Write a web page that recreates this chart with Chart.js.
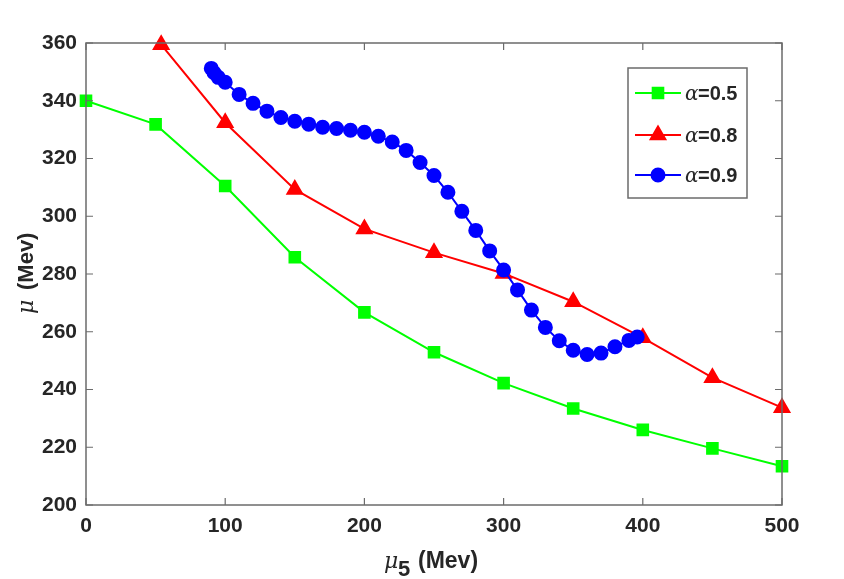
<!DOCTYPE html>
<html>
<head>
<meta charset="utf-8">
<script src="https://cdn.jsdelivr.net/npm/chart.js@4.4.0/dist/chart.umd.min.js"></script>
<style>
  html, body { margin: 0; padding: 0; background: #fff; }
  #wrap { width: 844px; height: 579px; }
</style>
</head>
<body>
<div id="wrap"><canvas id="myChart" width="844" height="579"></canvas></div>
<script>
/*** data */
const xTicks = [0, 100, 200, 300, 400, 500];
const yTicks = [200, 220, 240, 260, 280, 300, 320, 340, 360];

const mu5Green = [0, 50, 100, 150, 200, 250, 300, 350, 400, 450, 500];
const muGreen = [340, 331.8, 310.5, 285.8, 266.7, 252.9, 242.2, 233.4, 226, 219.6, 213.4];

const mu5Red = [54, 100, 150, 200, 250, 300, 350, 400, 450, 500];
const muRed = [359.4, 332.4, 309.3, 295.6, 287.4, 280.2, 270.4, 257.9, 244.1, 233.7];

const mu5Blue = [90, 92, 95, 100, 110, 120, 130, 140, 150, 160, 170, 180, 190, 200, 210, 220, 230,
  240, 250, 260, 270, 280, 290, 300, 310, 320, 330, 340, 350, 360, 370, 380, 390, 396];
const muBlue = [351.2, 349.7, 348.1, 346.4, 342.2, 339.1, 336.4, 334.2, 332.9, 331.9, 330.8, 330.4,
  329.8, 329.1, 327.7, 325.7, 322.8, 318.6, 314.1, 308.3, 301.7, 295.1, 288, 281.4, 274.5, 267.5,
  261.5, 256.9, 253.6, 252.1, 252.6, 254.8, 257, 258.2];

const legendNames = ['=0.5', '=0.8', '=0.9'];

function toPoints(xs, ys) {
  return xs.map((x, i) => ({ x: x, y: ys[i] }));
}

const axisColor = '#6b6b6b';
const textColor = '#262626';

/*** box, inward ticks, axis titles and legend like the matlab figure */
const matlabAxes = {
  id: 'matlabAxes',
  afterDraw(chart) {
    const c = chart.ctx;
    const a = chart.chartArea;
    const xs = chart.scales.x, ys = chart.scales.y;
    c.save();
    c.strokeStyle = axisColor;
    c.lineWidth = 1.5;
    c.strokeRect(a.left, a.top, a.right - a.left, a.bottom - a.top);
    c.lineWidth = 1.2;
    xTicks.forEach(v => {
      const px = xs.getPixelForValue(v);
      c.beginPath();
      c.moveTo(px, a.bottom); c.lineTo(px, a.bottom - 7);
      c.moveTo(px, a.top); c.lineTo(px, a.top + 7);
      c.stroke();
    });
    yTicks.forEach(v => {
      const py = ys.getPixelForValue(v);
      c.beginPath();
      c.moveTo(a.left, py); c.lineTo(a.left + 7, py);
      c.moveTo(a.right, py); c.lineTo(a.right - 7, py);
      c.stroke();
    });

    // x title: mu_5 (Mev)
    c.fillStyle = textColor;
    c.textBaseline = 'alphabetic';
    c.textAlign = 'left';
    c.font = 'italic 22px "DejaVu Serif"';
    c.fillText('\u03bc', 384, 568);
    c.font = 'bold 22px "Liberation Sans"';
    c.fillText('5', 398, 576);
    c.font = 'bold 23px "Liberation Sans"';
    c.fillText('(Mev)', 418, 568);

    // y title: mu (Mev)
    c.save();
    c.translate(33, 0);
    c.rotate(-Math.PI / 2);
    c.font = 'italic 22px "DejaVu Serif"';
    c.fillText('\u03bc', -314, 0);
    c.font = 'bold 22px "Liberation Sans"';
    c.fillText('(Mev)', -290, 0);
    c.restore();

    // legend
    const lx = 628, ly = 68, lw = 119, lh = 130;
    c.fillStyle = '#fff';
    c.fillRect(lx, ly, lw, lh);
    c.strokeStyle = axisColor;
    c.lineWidth = 1.5;
    c.strokeRect(lx, ly, lw, lh);
    const rowY = [93, 135, 175];
    chart.data.datasets.forEach((ds, i) => {
      const y = rowY[i];
      c.strokeStyle = ds.borderColor;
      c.lineWidth = 2;
      c.beginPath();
      c.moveTo(635, y); c.lineTo(681, y);
      c.stroke();
      Chart.helpers.drawPoint(c, {
        pointStyle: ds.pointStyle,
        radius: ds.pointRadius,
        rotation: 0,
        borderWidth: 1
      }, 658, y);
      c.fillStyle = ds.backgroundColor;
      c.fill();
      c.fillStyle = textColor;
      c.font = 'italic 20px "DejaVu Serif"';
      c.fillText('\u03b1', 685, y + 7);
      c.font = 'bold 20px "Liberation Sans"';
      c.fillText(legendNames[i], 698, y + 7);
    });
    c.restore();
  }
};

const ctx = document.getElementById('myChart').getContext('2d');
const chart = new Chart(ctx, {
  type: 'scatter',
  data: {
    datasets: [{
      data: toPoints(mu5Green, muGreen),
      borderColor: '#00ff00',
      backgroundColor: '#00ff00',
      pointStyle: 'rect',
      pointRadius: 7.5,
      borderWidth: 2,
      showLine: true,
      order: 2
    }, {
      data: toPoints(mu5Red, muRed),
      borderColor: '#ff0000',
      backgroundColor: '#ff0000',
      pointStyle: 'triangle',
      pointRadius: 8.5,
      borderWidth: 2,
      showLine: true,
      order: 1
    }, {
      data: toPoints(mu5Blue, muBlue),
      borderColor: '#0000ff',
      backgroundColor: '#0000ff',
      pointStyle: 'circle',
      pointRadius: 6.5,
      borderWidth: 2,
      showLine: true,
      order: 0
    }]
  },
  options: {
    responsive: false,
    animation: false,
    clip: false,
    layout: { padding: { left: 0, right: 62, top: 43, bottom: 0 } },
    plugins: {
      legend: { display: false },
      tooltip: { enabled: false }
    },
    elements: { line: { tension: 0 }, point: { borderWidth: 1 } },
    scales: {
      x: {
        type: 'linear',
        min: 0, max: 500,
        afterBuildTicks: s => { s.ticks = xTicks.map(v => ({ value: v })); },
        afterFit: s => { s.height = 74; },
        grid: { display: false, drawTicks: false },
        border: { display: false },
        ticks: {
          color: textColor,
          padding: 9,
          maxRotation: 0,
          font: { family: 'Liberation Sans', size: 21, weight: 'bold' }
        }
      },
      y: {
        min: 200, max: 360,
        afterBuildTicks: s => { s.ticks = yTicks.map(v => ({ value: v })); },
        afterFit: s => { s.width = 86; },
        grid: { display: false, drawTicks: false },
        border: { display: false },
        ticks: {
          color: textColor,
          padding: 9,
          font: { family: 'Liberation Sans', size: 21, weight: 'bold' }
        }
      }
    }
  },
  plugins: [matlabAxes]
});
</script>
</body>
</html>
